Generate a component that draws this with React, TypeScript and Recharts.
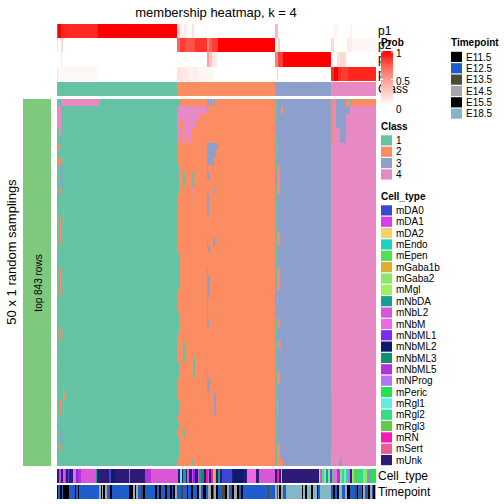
import React from "react";
import { ComposedChart, XAxis, YAxis, ReferenceArea } from "recharts";

const N_COLS = 319;
const N_SAMPLINGS = 50;
const FONT = '"Liberation Sans", Arial, Helvetica, sans-serif';

const CLASS_NAMES = ["1", "2", "3", "4"];
const CLASS_COLORS = ["#66C2A5", "#FC8D62", "#8DA0CB", "#E78AC3"];
const CLASS_BREAKS = [0, 120, 218, 274, 319];

const PROB_ROWS = ["p1", "p2", "p3", "p4"];
// [start col, end col, probability]
const P1_SEGS: [number, number, number][] = [
    [0, 1.3, 0.85], [1.3, 4, 1], [4, 8, 0.93], [8, 41.3, 0.91], [41.3, 119.7, 1],
    [119.7, 123, 0.25], [123, 125.7, 0.08], [127.3, 129.7, 0.1], [134.7, 137.3, 0.15],
    [218, 220.7, 0.35], [277.3, 281.3, 0.05], [293, 294.7, 0.06],
];
const P2_SEGS: [number, number, number][] = [
    [0, 1.3, 0.15], [4, 6.3, 0.2], [119.7, 123, 0.7], [123, 128, 0.85], [128, 138, 0.78],
    [138, 149.7, 0.88], [149.7, 152, 0.55], [152, 154.7, 0.75], [154.7, 161.3, 0.85],
    [161.3, 218, 1], [220.7, 223, 0.25], [274, 277.3, 0.2], [289.7, 294.7, 0.1], [294.7, 319, 0.04],
];
const P3_SEGS: [number, number, number][] = [
    [4, 5.3, 0.1], [149.7, 152, 0.45], [152, 154.7, 0.3], [154.7, 159.7, 0.12],
    [218, 220.7, 0.6], [220.7, 226.3, 0.85], [226.3, 274, 1], [279.7, 283, 0.15], [283, 288.7, 0.2],
];
const P4_SEGS: [number, number, number][] = [
    [0, 1.3, 0.15], [1.3, 41.3, 0.04], [119.7, 124, 0.15], [124, 131, 0.12], [131, 141, 0.08],
    [141, 151, 0.05], [151, 156, 0.04], [219.7, 220.7, 0.2], [274, 277.3, 0.9], [277.3, 280.7, 1],
    [280.7, 284, 0.9], [284, 291.3, 0.85], [291.3, 319, 0.92],
];
const PROB_SEGS = [P1_SEGS, P2_SEGS, P3_SEGS, P4_SEGS];

// consensus class per sampling row: [row from, row to, col from, col to, class]
const MEMBERSHIP_EXCEPTIONS: [number, number, number, number, number][] = [
    // class 1 block
    [0, 1, 4, 42, 4], [1, 4, 0, 4, 4], [4, 5, 2, 4, 4], [6, 7, 0, 3, 2], [8, 9, 0, 5, 2],
    [9, 12, 4, 6, 3], [12, 13, 3, 4, 2], [12, 13, 0, 1, 2], [14, 17, 6, 7, 2], [16, 17, 3, 4, 2],
    [17, 20, 3, 4, 2], [19, 20, 0, 1, 2], [23, 27, 3, 4, 2], [25, 26, 6, 7, 2], [26, 27, 0, 1, 2],
    [29, 30, 0, 1, 2], [31, 33, 3, 4, 2], [36, 37, 0, 1, 2], [39, 43, 6, 7, 2], [40, 41, 6, 8, 2],
    [40, 44, 0, 1, 2], [41, 43, 3, 4, 2], [44, 45, 6, 7, 2], [45, 47, 4, 6, 3], [47, 48, 3, 4, 2],
    // class 2 block
    [0, 1, 120, 123, 1], [0, 1, 150, 152, 3], [0, 1, 153, 155, 3], [0, 1, 156.5, 158, 3],
    [1, 2, 120, 150, 4], [2, 3, 120, 142, 4], [3, 4, 120, 123, 4], [3, 4, 127, 138, 4],
    [4, 5, 121, 124, 4], [4, 5, 126, 135, 4], [5, 6, 121, 123, 4], [5, 6, 124.7, 129, 4],
    [5, 6, 130, 135, 4], [6, 7, 150, 161, 3], [7, 8, 150, 159, 3], [8, 9, 150, 157, 3],
    [9, 10, 150, 151, 3], [9, 10, 156, 157, 3], [9, 13, 120, 121.5, 1], [10, 11, 150, 153, 3],
    [10, 12, 126, 128, 1], [10, 12, 135, 137, 1], [12, 13, 135, 136, 4], [12, 13, 156.5, 158, 3],
    [13, 16, 150, 152, 3], [19, 20, 150, 151, 3], [19, 20, 156, 158, 3], [20, 21, 151, 153, 3],
    [21, 24, 120, 123, 1], [23, 24, 150, 151, 3], [24, 27, 150, 153, 3], [24, 26, 120, 123, 1],
    [26, 30, 150, 151, 3], [29, 32, 120, 122, 1], [30, 31, 150, 152, 3], [33, 36, 126, 128, 1],
    [35, 38, 136, 138, 1], [36, 38, 120, 122, 1], [37, 38, 150, 151, 3], [38, 40, 150, 153, 3],
    [40, 43, 156.5, 158.5, 3], [41, 43, 120, 122, 1], [44, 45, 120, 122, 1], [45, 46, 126, 128, 1],
    [46, 49, 120, 122, 1], [49, 50, 135, 137, 1], [49, 50, 134, 135, 4],
    // class 3 block
    [0, 3, 218, 220, 1], [5, 10, 218, 219.5, 1], [12, 25, 218, 219.5, 1], [30, 50, 218, 219.5, 1],
    [1, 2, 223.5, 225.5, 2], [6, 7, 219.7, 221, 4], [9, 13, 220, 222.5, 2], [18, 20, 220, 222.5, 2],
    [23, 26, 220, 223, 2], [27, 28, 220, 221, 4], [30, 31, 220, 223, 2], [33, 34, 220, 221, 4],
    [33, 34, 222, 224, 2], [37, 39, 220, 222.5, 2], [41, 43, 220, 221, 4], [47, 50, 220, 223, 2],
    [49, 50, 223, 226, 2],
    // class 4 block
    [0, 6, 274, 277, 2], [0, 1, 277, 279, 4], [0, 4, 279, 283, 3], [0, 6, 283, 289, 3],
    [0, 1, 289, 293, 2], [1, 2, 289, 293, 3], [0, 1, 293, 295, 1], [0, 1, 295, 319, 2],
    [37, 38, 288, 289, 2], [40, 48, 274, 275.3, 2], [49, 50, 282, 285, 3],
];

const CELL_TYPE_NAMES = [
    "mDA0", "mDA1", "mDA2", "mEndo", "mEpen", "mGaba1b", "mGaba2", "mMgl", "mNbDA", "mNbL2",
    "mNbM", "mNbML1", "mNbML2", "mNbML3", "mNbML5", "mNProg", "mPeric", "mRgl1", "mRgl2",
    "mRgl3", "mRN", "mSert", "mUnk",
];
const CELL_TYPE_COLORS = [
    "#3A48D4", "#D83FEA", "#F7D066", "#1CD2C2", "#52E052", "#D9AF2F", "#88E86A", "#A2EE5E",
    "#13A18F", "#D957D6", "#EE68E2", "#7B2BF6", "#0D1A6E", "#12906E", "#B332DE", "#B573F6",
    "#27E24E", "#68E9E2", "#36D88A", "#62C94A", "#F21AB2", "#EE5C98", "#2E1A78",
];
// [end col, cell type]; each run starts where the previous ends
const CELL_TYPE_RUNS: [number, string][] = [
    [2.3, "mUnk"], [3.7, "mDA1"], [6.3, "mUnk"], [7.7, "mNbL2"], [9, "mNbDA"], [10.7, "mUnk"],
    [12, "mDA0"], [16.3, "mUnk"], [18.7, "mNbM"], [21.3, "mNbML1"], [24, "mNbML5"], [38.7, "mNbL2"],
    [40, "mNbDA"], [52, "mUnk"], [54, "mDA0"], [58, "mNbML2"], [72, "mUnk"], [73, "mNbL2"],
    [88, "mUnk"], [94, "mNbML5"], [120.7, "mNbL2"], [123, "mUnk"], [124.7, "mRgl1"], [126.3, "mUnk"],
    [128.7, "mNbDA"], [130.3, "mUnk"], [132, "mNbL2"], [134.7, "mUnk"], [136.3, "mDA1"],
    [138, "mNbML1"], [140.7, "mUnk"], [142.3, "mNbL2"], [144, "mNbDA"], [147.3, "mNbML3"],
    [149, "mUnk"], [150.7, "mRN"], [152, "mNbL2"], [154, "mUnk"], [156, "mRN"], [157.3, "mDA2"],
    [158.7, "mGaba1b"], [161.3, "mUnk"], [163, "mNbDA"], [164.7, "mUnk"], [174.7, "mDA0"],
    [176.3, "mUnk"], [187.3, "mNbML2"], [189.7, "mUnk"], [198.7, "mNbM"], [202, "mUnk"],
    [218, "mNbL2"], [220.3, "mUnk"], [222, "mRN"], [223.7, "mUnk"], [224.7, "mGaba2"],
    [262, "mUnk"], [263.3, "mDA2"], [265.3, "mNbL2"], [266.7, "mEpen"], [268.7, "mRgl1"],
    [270.7, "mNbDA"], [273, "mGaba2"], [274.7, "mNbML1"], [277.3, "mRgl2"], [279.7, "mNbM"],
    [283, "mNbML5"], [284.7, "mGaba2"], [287, "mRgl2"], [288.7, "mRgl1"], [291.3, "mRgl2"],
    [293, "mNProg"], [294.7, "mUnk"], [297.3, "mGaba2"], [299.7, "mRgl3"], [306.3, "mRgl2"],
    [309.7, "mGaba2"], [313, "mNProg"], [319, "mPeric"],
];

const TIMEPOINT_NAMES = ["E11.5", "E12.5", "E13.5", "E14.5", "E15.5", "E18.5"];
const TIMEPOINT_COLORS = ["#000000", "#1D5DCE", "#4E4A33", "#A7A7A7", "#040404", "#84B7C6"];
const TIMEPOINT_RUNS: [number, string][] = [
    [1.3, "E11.5"], [3, "E12.5"], [4.7, "E11.5"], [6.3, "E12.5"], [11.7, "E11.5"], [18, "E12.5"],
    [19, "E15.5"], [21.3, "E12.5"], [22.3, "E11.5"], [42.3, "E12.5"], [43.7, "E14.5"], [45, "E15.5"],
    [46.3, "E14.5"], [48.3, "E11.5"], [49.7, "E14.5"], [53, "E12.5"], [54.7, "E11.5"], [72.3, "E12.5"],
    [76.3, "E15.5"], [78, "E14.5"], [79.3, "E11.5"], [81.3, "E14.5"], [84.3, "E12.5"], [86, "E13.5"],
    [88, "E11.5"], [98, "E12.5"], [99.7, "E11.5"], [102.3, "E12.5"], [104, "E15.5"], [108, "E12.5"],
    [109.7, "E11.5"], [113, "E12.5"], [114.7, "E11.5"], [116.3, "E12.5"], [117.7, "E11.5"],
    [119.7, "E14.5"], [123.7, "E12.5"], [125.7, "E13.5"], [129.7, "E12.5"], [131.3, "E11.5"],
    [133.7, "E12.5"], [135.7, "E15.5"], [140.3, "E12.5"], [142.3, "E11.5"], [143.7, "E14.5"],
    [146.3, "E12.5"], [149, "E11.5"], [151.3, "E12.5"], [153.7, "E14.5"], [155.7, "E11.5"],
    [157, "E12.5"], [159, "E14.5"], [161.3, "E11.5"], [164.7, "E12.5"], [168, "E13.5"],
    [170.3, "E11.5"], [172.3, "E14.5"], [174.7, "E12.5"], [177, "E11.5"], [179.7, "E14.5"],
    [181.7, "E11.5"], [184, "E12.5"], [186.3, "E15.5"], [211.3, "E12.5"], [212.3, "E13.5"],
    [218, "E12.5"], [219.7, "E14.5"], [221.3, "E12.5"], [222.3, "E14.5"], [223.7, "E11.5"],
    [225.7, "E14.5"], [229, "E12.5"], [244.7, "E18.5"], [246.3, "E11.5"], [248, "E18.5"],
    [249.7, "E15.5"], [253.7, "E18.5"], [255.7, "E11.5"], [259.7, "E18.5"], [261.3, "E11.5"],
    [263, "E12.5"], [273.7, "E18.5"], [276.3, "E12.5"], [278, "E11.5"], [280.3, "E12.5"],
    [282.3, "E11.5"], [284.7, "E18.5"], [288, "E12.5"], [289.7, "E14.5"], [293, "E11.5"],
    [298, "E12.5"], [299.7, "E13.5"], [301.3, "E11.5"], [304.7, "E12.5"], [306.3, "E11.5"],
    [308, "E14.5"], [311.3, "E12.5"], [313, "E11.5"], [314.7, "E14.5"], [316.3, "E12.5"],
    [317.7, "E11.5"], [319, "E14.5"],
];

type Rect = { x1: number; x2: number; y1: number; y2: number; fill: string };

// white -> red, roughly like colorRamp2(c(0, 1), c("white", "red"))
function probColor(p: number) {
    const g = Math.round(255 * Math.pow(1 - p, 0.75));
    const b = Math.round(255 * Math.pow(1 - p, 0.85));
    return `rgb(255,${g},${b})`;
}

function runsToRects(runs: [number, string][], names: string[], colors: string[]): Rect[] {
    let start = 0;
    return runs.map(([end, name]) => {
        const r = { x1: start, x2: end, y1: 0, y2: 1, fill: colors[names.indexOf(name)] };
        start = end;
        return r;
    });
}

const classBlocks = (y1: number, y2: number): Rect[] =>
    CLASS_COLORS.map((fill, i) => ({ x1: CLASS_BREAKS[i], x2: CLASS_BREAKS[i + 1], y1, y2, fill }));

const probRects: Rect[] = PROB_SEGS.flatMap((segs, row) => [
    { x1: 0, x2: N_COLS, y1: row, y2: row + 1, fill: "#ffffff" },
    ...segs.map(([a, b, p]) => ({ x1: a, x2: b, y1: row, y2: row + 1, fill: probColor(p) })),
]);

const membershipRects: Rect[] = [
    ...classBlocks(0, N_SAMPLINGS),
    ...MEMBERSHIP_EXCEPTIONS.map(([r0, r1, c0, c1, k]) => ({
        x1: c0, x2: c1, y1: r0, y2: r1, fill: CLASS_COLORS[k - 1],
    })),
];

function HeatPanel({ height, rows, rects }: { height: number; rows: number; rects: Rect[] }) {
    return (
        <ComposedChart
            width={N_COLS}
            height={height}
            data={[{ c: 0, r: 0 }, { c: N_COLS, r: rows }]}
            margin={{ top: 0, right: 0, bottom: 0, left: 0 }}
        >
            <XAxis type="number" dataKey="c" domain={[0, N_COLS]} hide allowDataOverflow />
            <YAxis type="number" dataKey="r" domain={[0, rows]} reversed hide allowDataOverflow width={0} />
            {rects.map((r, i) => (
                <ReferenceArea
                    key={i}
                    x1={r.x1}
                    x2={r.x2}
                    y1={r.y1}
                    y2={r.y2}
                    fill={r.fill}
                    fillOpacity={1}
                    stroke="none"
                    ifOverflow="visible"
                />
            ))}
        </ComposedChart>
    );
}

const place = (top: number): React.CSSProperties => ({ position: "absolute", left: 57, top });

function LegendBlock({ x, y, title, names, colors }: {
    x: number; y: number; title: string; names: string[]; colors: string[];
}) {
    return (
        <g>
            <text x={x} y={y} fontSize={10} fontWeight="bold" dominantBaseline="central">{title}</text>
            {names.map((n, i) => (
                <g key={n}>
                    <rect x={x} y={y + 9.3 + i * 11.35} width={11} height={10.2} fill={colors[i]} />
                    <text x={x + 15} y={y + 14.5 + i * 11.35} fontSize={10} dominantBaseline="central">{n}</text>
                </g>
            ))}
        </g>
    );
}

export default function App() {
    const gradTop = 51;
    const gradH = 55;
    return (
        <div style={{ position: "absolute", left: 0, top: 0, width: 504, height: 504, background: "#fff", fontFamily: FONT, shapeRendering: "crispEdges" }}>
            <div style={place(24)}>
                <HeatPanel height={56.7} rows={4} rects={probRects} />
            </div>
            <div style={place(81.7)}>
                <HeatPanel height={14} rows={1} rects={classBlocks(0, 1)} />
            </div>
            <div style={place(99)}>
                <HeatPanel height={367} rows={N_SAMPLINGS} rects={membershipRects} />
            </div>
            <div style={place(469)}>
                <HeatPanel height={14} rows={1} rects={runsToRects(CELL_TYPE_RUNS, CELL_TYPE_NAMES, CELL_TYPE_COLORS)} />
            </div>
            <div style={place(484.5)}>
                <HeatPanel height={14} rows={1} rects={runsToRects(TIMEPOINT_RUNS, TIMEPOINT_NAMES, TIMEPOINT_COLORS)} />
            </div>
            <svg width={504} height={504} style={{ position: "absolute", left: 0, top: 0, pointerEvents: "none", shapeRendering: "auto" }} fontFamily={FONT}>
                <defs>
                    <linearGradient id="probGrad" x1="0" x2="0" y1="0" y2="1">
                        {[1, 0.75, 0.5, 0.25, 0].map((v) => (
                            <stop key={v} offset={`${(1 - v) * 100}%`} stopColor={probColor(v)} />
                        ))}
                    </linearGradient>
                </defs>
                <text x={216} y={12} fontSize={13} textAnchor="middle" dominantBaseline="central">
                    membership heatmap, k = 4
                </text>
                <text transform="translate(11,252) rotate(-90)" fontSize={13} textAnchor="middle" dominantBaseline="central">
                    50 x 1 random samplings
                </text>
                <rect x={23} y={99} width={28} height={367} fill="#7FC97F" />
                <text transform="translate(38,283) rotate(-90)" fontSize={10} textAnchor="middle" dominantBaseline="central">
                    top 843 rows
                </text>
                {PROB_ROWS.map((p, i) => (
                    <text key={p} x={378} y={31.1 + i * 14.17} fontSize={12} dominantBaseline="central">{p}</text>
                ))}
                <text x={378} y={88.7} fontSize={12} dominantBaseline="central">Class</text>
                <text x={378} y={476} fontSize={12} dominantBaseline="central">Cell_type</text>
                <text x={378} y={491.5} fontSize={12} dominantBaseline="central">Timepoint</text>

                <text x={381} y={42} fontSize={10} fontWeight="bold" dominantBaseline="central">Prob</text>
                <rect x={381} y={gradTop} width={12} height={gradH} fill="url(#probGrad)" />
                {[1, 0.5].map((v) => (
                    <g key={v}>
                        <line x1={381} x2={383} y1={gradTop + (1 - v) * gradH + 1} y2={gradTop + (1 - v) * gradH + 1} stroke="#fff" />
                        <line x1={391} x2={393} y1={gradTop + (1 - v) * gradH + 1} y2={gradTop + (1 - v) * gradH + 1} stroke="#fff" />
                    </g>
                ))}
                {[1, 0.5, 0].map((v) => (
                    <text key={v} x={396} y={53 + (1 - v) * 56} fontSize={10} dominantBaseline="central">{v}</text>
                ))}

                <LegendBlock x={381} y={126} title="Class" names={CLASS_NAMES} colors={CLASS_COLORS} />
                <LegendBlock x={381} y={196} title="Cell_type" names={CELL_TYPE_NAMES} colors={CELL_TYPE_COLORS} />
                <LegendBlock x={451} y={42.5} title="Timepoint" names={TIMEPOINT_NAMES} colors={TIMEPOINT_COLORS} />
            </svg>
        </div>
    );
}
